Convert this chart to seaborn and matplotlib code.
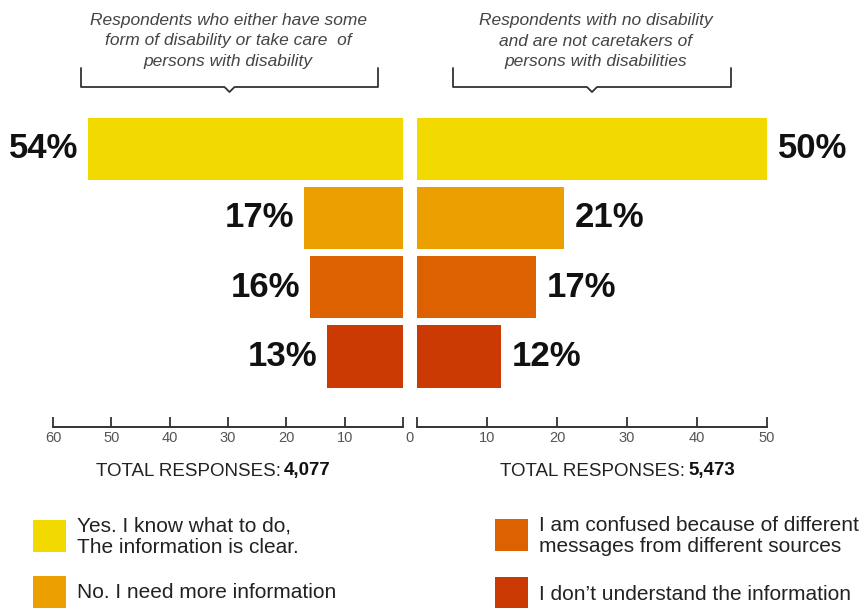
import numpy as np
import pandas as pd
import matplotlib.pyplot as plt
import matplotlib.lines as mlines
import matplotlib.patches as mpatches
import seaborn as sns

# --- data ---
answers = [
    "Yes. I know what to do,\nThe information is clear.",
    "No. I need more information",
    "I am confused because of different\nmessages from different sources",
    "I don\u2019t understand the information",
]
left_pct = [54, 17, 16, 13]    # disability / caretakers
right_pct = [50, 21, 17, 12]   # no disability, not caretakers
left_total = "4,077"
right_total = "5,473"
left_title = "Respondents who either have some\nform of disability or take care  of\npersons with disability"
right_title = "Respondents with no disability\nand are not caretakers of\npersons with disabilities"
colors = ["#F2DA00", "#EC9F00", "#DD6100", "#CB3A02"]

SANS = ["Liberation Sans", "DejaVu Sans"]

sns.set_style("white")
plt.rcParams["font.family"] = SANS

W, H = 864, 608
fig = plt.figure(figsize=(W / 100, H / 100), dpi=100)


def fx(x):
    return x / W


def fy(y):
    return 1 - y / H


ax_l = fig.add_axes([fx(53), fy(427), 350 / W, (427 - 110) / H])
ax_r = fig.add_axes([fx(417), fy(427), 350 / W, (427 - 110) / H])

df_l = pd.DataFrame({"answer": answers, "pct": left_pct})
df_r = pd.DataFrame({"answer": answers, "pct": right_pct})

for ax, df, side in [(ax_l, df_l, "left"), (ax_r, df_r, "right")]:
    sns.barplot(data=df, x="pct", y="answer", hue="answer", order=answers,
                hue_order=answers, palette=colors, orient="h", width=0.9,
                legend=False, ax=ax, saturation=1, linewidth=0)
    ax.set_ylim(4.02, -0.56)
    ax.set_ylabel("")
    ax.set_xlabel("")
    ax.set_yticks([])
    for s in ["top", "left", "right"]:
        ax.spines[s].set_visible(False)
    ax.spines["bottom"].set_color("#333333")
    ax.spines["bottom"].set_linewidth(1.4)
    ax.tick_params(axis="x", bottom=True, direction="in", length=7, width=1.3,
                   color="#333333", pad=3, labelsize=10.5, labelcolor="#555555")
    for i, v in enumerate(df["pct"]):
        if side == "left":
            ax.annotate(f"{v}%", xy=(v, i), xytext=(-7, 0), textcoords="offset points",
                        ha="right", va="center", fontsize=25, fontweight="bold",
                        color="#111111")
        else:
            ax.annotate(f"{v}%", xy=(v, i), xytext=(8, 0), textcoords="offset points",
                        ha="left", va="center", fontsize=25, fontweight="bold",
                        color="#111111", annotation_clip=False)

ax_l.set_xlim(60, 0)
ax_l.set_xticks([60, 50, 40, 30, 20, 10, 0])
ax_l.set_xticklabels(["60", "50", "40", "30", "20", "10", ""])
ax_r.set_xlim(0, 50)
ax_r.set_xticks([0, 10, 20, 30, 40, 50])
ax_r.set_xticklabels(["", "10", "20", "30", "40", "50"])
fig.text(fx(410), fy(438), "0", ha="center", va="center", fontsize=10.5,
         color="#555555")

# headers with brackets
for title, cx, x0, x1 in [(left_title, 228, 81, 378), (right_title, 596, 453, 731)]:
    fig.text(fx(cx), fy(41), title, ha="center", va="center", fontsize=12.5,
             style="italic", color="#444444", linespacing=1.42)
    xs = [fx(x0), fx(x0), fx((x0 + x1) / 2 - 5), fx((x0 + x1) / 2), fx((x0 + x1) / 2 + 5),
          fx(x1), fx(x1)]
    ys = [fy(68), fy(87), fy(87), fy(92), fy(87), fy(87), fy(68)]
    fig.add_artist(mlines.Line2D(xs, ys, color="#333333", lw=1.3))

# totals
for total, xm in [(left_total, 281), (right_total, 685)]:
    fig.text(fx(xm), fy(471), "TOTAL RESPONSES:", ha="right", va="center",
             fontsize=13.5, color="#222222")
    fig.text(fx(xm + 3), fy(471), total, ha="left", va="center",
             fontsize=13.5, color="#111111", fontweight="bold")

# legend
legend_pos = [(33, 520), (33, 576), (495, 519), (495, 577)]
for (lx, ly), lab, col in zip(legend_pos, answers, colors):
    fig.add_artist(mpatches.Rectangle((fx(lx), fy(ly + 32)), 33 / W, 32 / H,
                                      color=col, lw=0))
    fig.text(fx(lx + 44), fy(ly + 17), lab, ha="left", va="center", fontsize=15,
             color="#222222", linespacing=1.15)

fig.savefig("out.png", dpi=100)
